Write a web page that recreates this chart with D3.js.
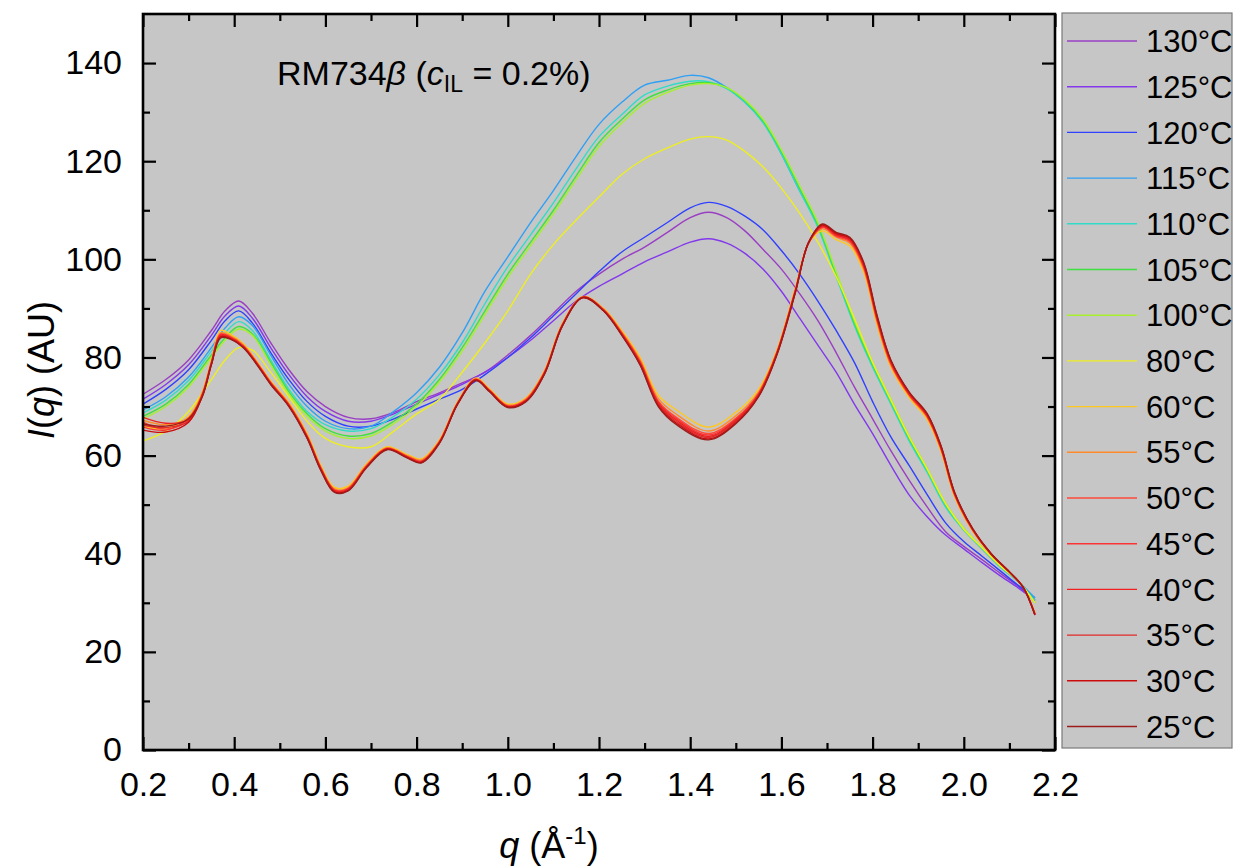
<!DOCTYPE html>
<html>
<head>
<meta charset="utf-8">
<script src="https://cdn.jsdelivr.net/npm/d3@7"></script>
<style>
  body { margin: 0; background: #ffffff; }
  svg { display: block; }
  text { font-family: "Liberation Sans", Arial, sans-serif; fill: #000; }
</style>
</head>
<body>
<svg id="chart" width="1235" height="867"></svg>
<script>
// ---- series labels and colours (legend order, top to bottom) ----
const temps = ["130°C","125°C","120°C","115°C","110°C","105°C","100°C","80°C",
               "60°C","55°C","50°C","45°C","40°C","35°C","30°C","25°C"];
const colors = ["#9a3fc4","#8338ec","#3040ff","#2ea0f5","#30dcc8","#40e040","#a8ee30","#eeee20",
                "#ffc81e","#ff8a2a","#ff4a3a","#fa3434","#f02020","#e02a2a","#cc0c0c","#9c1c1c"];

// ---- q grid for the isotropic / high-temperature scans (Å^-1) ----
const qHigh = [0.20,0.25,0.30,0.35,0.38,0.41,0.44,0.48,0.52,0.56,0.60,0.65,0.70,0.75,0.80,0.85,0.90,0.95,
               1.00,1.05,1.10,1.15,1.20,1.25,1.30,1.35,1.40,1.44,1.48,1.52,1.56,1.60,1.64,1.68,1.72,1.76,
               1.80,1.84,1.88,1.92,1.96,2.00,2.04,2.08,2.12,2.156];

const I130 = [72.5,75.5,79.5,85.5,89.5,91.5,89,83,77.5,73,70,67.8,67.5,68.8,71,72.8,74.8,77,
              80.5,84.5,89,93.5,97,100,102.5,105.5,108.5,109.6,108.5,105.8,102,98,93,87.5,81,74,
              67.5,61,55,49.5,44.5,41.5,38.8,36,33.3,30.5];
const I125 = [71.5,74.5,78.5,84.5,88.5,90.5,88,82,76.5,72,69,67,67,68.5,70.5,72.5,74.5,77,
              80,83.5,87.5,91.5,94.5,97,99.5,101.5,103.5,104.2,103.3,101.2,98,93.5,88,82.5,77,70.5,
              64.5,58,52,47.5,43.8,41,38.2,35.5,33,30.5];
const I120 = [70.5,73.5,77.5,83.5,87.5,89.5,87,81,75.5,71,68,66,66,67.5,69.5,71.5,73.5,76.5,
              80,84,88.5,93,97.5,101.5,104.5,107.5,110.5,111.6,110.8,108.8,106,101.8,97,91.5,85.5,79,
              71,63.8,58,52,46.3,42.5,39.5,36.5,33.5,31];
const I115 = [69.3,72,76,82,86,88.3,86.5,80.5,74.5,70,67,65.5,66,69,72.8,78,85,93.5,
              100.5,107.5,114,121,127.5,132,135.5,136.5,137.5,137,135,132,128,121.5,114,107,97,87,
              78.5,71,63.5,57,50,45,41,37.3,34.3,31];
const I110 = [68.7,71.3,75.3,81.3,85,87.3,85.5,79.5,73.5,69,66.3,65,65.5,68,71.5,76.5,83,91,
              98.5,105,111.5,118.5,125,129.5,133.5,135.3,136.3,136.2,134.8,132,127.8,121.5,114,106.5,96.5,86.5,
              78,70.5,63,56.5,49.5,44.8,41,37.3,34.2,30.5];
const I105 = [68,70.5,74.5,80.5,84,86.3,84.8,79,73,68.5,65.5,64,64.5,67,70.5,75.5,82,89.5,
              97,103.5,110,117,123.8,128.5,132.5,134.5,135.8,136,135,132.3,128.2,122,114.5,107,97,87,
              78.5,71,63.5,57,50,45,41.2,37.5,34.3,30];
const I100 = [67.5,70,74,80,83.5,85.8,84.5,78.5,72.5,68,65,63.5,64,66.5,70,75,81.3,88.8,
              96.3,102.8,109.3,116.3,123,127.8,131.8,134,135.5,135.8,135,132.5,128.5,122.3,115,107.5,97.5,87.5,
              79,71.5,64,57.3,50.3,45.2,41.3,37.6,34.4,30];
const I80  = [63,65,69,75.5,79.5,82,81.5,77,72,67,63.5,61.8,61.8,65,68.5,71.5,77,83,
              89.5,97,103,108,112.7,117.3,120.5,122.7,124.5,125,124.3,122,118.8,114.5,109.4,103.5,96.5,88,
              79,71.3,63.8,57.2,50.2,45,41.2,37.5,34.3,30];

// ---- q grid for the nematic-phase scans (Å^-1) ----
const qLow = [0.20,0.25,0.30,0.33,0.35,0.37,0.39,0.42,0.45,0.48,0.52,0.56,0.59,0.62,0.65,0.69,0.735,0.78,
              0.81,0.85,0.89,0.93,0.96,1.00,1.04,1.08,1.12,1.165,1.21,1.25,1.29,1.33,1.37,1.44,1.50,1.55,
              1.59,1.63,1.66,1.69,1.72,1.75,1.78,1.81,1.84,1.88,1.92,1.95,1.98,2.02,2.06,2.10,2.13,2.156];

const I60 = [66,65.5,68,73,79.5,85.5,84.8,82.8,79.2,75.2,70.8,64.5,58,53.5,53.8,58.3,61.8,60.2,
             59.3,63.2,71,75.8,73.6,70.5,71.8,77.3,87,92.4,90,85.5,80,72.3,69.3,65.8,68.8,73.5,
             81.5,94,103.3,105.8,104,102.7,97.5,86.5,78,71.8,67.3,60.8,51.5,44.5,39.8,36.2,33.2,28];
const I55 = [67.2,66.3,67.8,72.8,79.2,85,84.5,82.6,79,75,70.6,64.2,57.7,53.2,53.5,58.1,61.6,60,
             59.1,63,70.9,75.7,73.4,70.3,71.6,77.1,86.9,92.4,89.9,85.2,79.6,71.6,68.4,65,68.1,73,
             81.2,93.7,103.4,106.2,104.5,103.3,98.1,87.1,78.4,72.2,67.7,61.2,51.8,44.6,39.9,36.2,33.2,27.9];
const I50 = [66.8,65.4,67.2,72.5,79,84.8,84.3,82.4,78.9,74.9,70.4,64,57.5,53,53.3,57.9,61.5,59.8,
             58.9,62.8,70.7,75.5,73.3,70.1,71.4,76.9,86.7,92.3,89.7,85,79.2,71.1,67.8,64.5,67.6,72.7,
             81,93.5,103.4,106.5,104.7,103.6,98.5,87.5,78.7,72.4,67.9,61.4,52,44.8,39.9,36.2,33.2,27.7];
const I45 = [65.8,65.2,67.6,72.3,78.9,84.6,84.2,82.3,78.8,74.8,70.3,63.9,57.4,52.9,53.2,57.8,61.4,59.8,
             58.8,62.8,70.7,75.5,73.2,70.1,71.3,76.8,86.7,92.3,89.7,84.9,79.1,70.9,67.5,64.2,67.4,72.6,
             80.9,93.4,103.4,106.6,104.9,103.8,98.7,87.7,78.9,72.5,68,61.5,52.1,44.8,39.9,36.3,33.2,27.7];
const I40 = [67.8,66.6,67.3,72.3,78.8,84.5,84.1,82.2,78.7,74.7,70.2,63.8,57.3,52.8,53.1,57.7,61.4,59.7,
             58.7,62.7,70.6,75.4,73.2,70,71.2,76.7,86.6,92.3,89.6,84.8,78.9,70.7,67.2,63.9,67.2,72.4,
             80.8,93.3,103.4,106.8,105,104,98.9,87.9,79.1,72.6,68.1,61.6,52.2,44.9,39.9,36.3,33.2,27.6];
const I35 = [66.2,65.7,67,72.2,78.7,84.3,84,82.2,78.6,74.6,70.2,63.7,57.2,52.7,53,57.7,61.3,59.6,
             58.7,62.6,70.6,75.4,73.1,69.9,71.2,76.7,86.6,92.2,89.6,84.7,78.8,70.5,66.9,63.7,67,72.3,
             80.7,93.2,103.5,106.9,105.2,104.1,99.1,88.1,79.2,72.8,68.3,61.8,52.3,44.9,40,36.3,33.2,27.6];
const I30 = [65.2,64.8,66.8,72.1,78.6,84.2,83.9,82.1,78.6,74.6,70.1,63.6,57.1,52.6,52.9,57.6,61.3,59.6,
             58.6,62.6,70.5,75.4,73.1,69.9,71.1,76.6,86.5,92.2,89.5,84.6,78.6,70.2,66.6,63.4,66.7,72.1,
             80.6,93.1,103.5,107,105.3,104.3,99.3,88.3,79.4,72.9,68.4,61.9,52.4,45,40,36.3,33.2,27.5];
const I25 = [66.5,66,67.5,72,78.5,84,83.8,82,78.5,74.5,70,63.5,57,52.5,52.8,57.5,61.2,59.5,
             58.5,62.5,70.5,75.3,73,69.8,71,76.5,86.5,92.2,89.5,84.5,78.5,70,66.3,63.2,66.5,72,
             80.5,93,103.5,107.2,105.5,104.5,99.5,88.5,79.5,73,68.5,62,52.5,45,40,36.3,33.2,27.5];

// ---- axis ticks ----
const xMajor = [0.2,0.4,0.6,0.8,1.0,1.2,1.4,1.6,1.8,2.0,2.2];
const xMinor = [0.3,0.5,0.7,0.9,1.1,1.3,1.5,1.7,1.9,2.1];
const yMajor = [0,20,40,60,80,100,120,140];
const yMinor = [10,30,50,70,90,110,130];

// ---- assemble series ----
const intensities = [I130,I125,I120,I115,I110,I105,I100,I80,I60,I55,I50,I45,I40,I35,I30,I25];
const series = temps.map((t, i) => {
  const q = i < 8 ? qHigh : qLow;
  return { label: t, color: colors[i], points: q.map((v, j) => [v, intensities[i][j]]) };
});

// ---- layout ----
const svg = d3.select("#chart");
const plotL = 143, plotR = 1055, plotT = 14, plotB = 750;
const x = d3.scaleLinear().domain([0.2, 2.2]).range([plotL, plotR]);
const y = d3.scaleLinear().domain([0, 150]).range([plotB, plotT]);

// plot background
svg.append("rect").attr("x", plotL).attr("y", plotT)
  .attr("width", plotR - plotL).attr("height", plotB - plotT).attr("fill", "#c6c6c6");

svg.append("clipPath").attr("id", "plotClip").append("rect")
  .attr("x", plotL).attr("y", plotT).attr("width", plotR - plotL).attr("height", plotB - plotT);

// curves
const line = d3.line().x(d => x(d[0])).y(d => y(d[1])).curve(d3.curveCatmullRom.alpha(0.5));
svg.append("g").attr("clip-path", "url(#plotClip)")
  .selectAll("path").data(series).join("path")
  .attr("d", d => line(d.points))
  .attr("fill", "none")
  .attr("stroke", d => d.color)
  .attr("stroke-width", 1.4)
  .attr("stroke-linejoin", "round");

// axes with inward ticks on all four sides
const fmtX = d3.format(".1f");
function styleAxis(g) {
  g.select(".domain").remove();
  g.selectAll(".tick line").attr("stroke", "#000").attr("stroke-width", 2.2);
  g.selectAll(".tick text").attr("font-size", 34).attr("fill", "#000")
    .attr("font-family", '"Liberation Sans", Arial, sans-serif');
}
svg.append("g").attr("transform", `translate(0,${plotB})`)
  .call(d3.axisBottom(x).tickValues(xMajor).tickSize(-13).tickPadding(22).tickFormat(fmtX))
  .call(styleAxis);
svg.append("g").attr("transform", `translate(0,${plotB})`)
  .call(d3.axisBottom(x).tickValues(xMinor).tickSize(-7).tickFormat(""))
  .call(styleAxis);
svg.append("g").attr("transform", `translate(0,${plotT})`)
  .call(d3.axisTop(x).tickValues(xMajor).tickSize(-13).tickFormat(""))
  .call(styleAxis);
svg.append("g").attr("transform", `translate(0,${plotT})`)
  .call(d3.axisTop(x).tickValues(xMinor).tickSize(-7).tickFormat(""))
  .call(styleAxis);
svg.append("g").attr("transform", `translate(${plotL},0)`)
  .call(d3.axisLeft(y).tickValues(yMajor).tickSize(-13).tickPadding(21).tickFormat(d3.format("d")))
  .call(styleAxis);
svg.append("g").attr("transform", `translate(${plotL},0)`)
  .call(d3.axisLeft(y).tickValues(yMinor).tickSize(-7).tickFormat(""))
  .call(styleAxis);
svg.append("g").attr("transform", `translate(${plotR},0)`)
  .call(d3.axisRight(y).tickValues(yMajor).tickSize(-13).tickFormat(""))
  .call(styleAxis);
svg.append("g").attr("transform", `translate(${plotR},0)`)
  .call(d3.axisRight(y).tickValues(yMinor).tickSize(-7).tickFormat(""))
  .call(styleAxis);

// frame
svg.append("rect").attr("x", plotL).attr("y", plotT)
  .attr("width", plotR - plotL).attr("height", plotB - plotT)
  .attr("fill", "none").attr("stroke", "#000").attr("stroke-width", 2.6);

// axis titles
const xt = svg.append("text").attr("x", 549).attr("y", 858).attr("text-anchor", "middle").attr("font-size", 36);
xt.append("tspan").attr("font-style", "italic").text("q");
xt.append("tspan").text(" (Å");
xt.append("tspan").attr("font-size", 24).attr("dy", -14).text("-1");
xt.append("tspan").attr("dy", 14).text(")");

const yt = svg.append("text").attr("transform", "translate(54,370) rotate(-90)")
  .attr("text-anchor", "middle").attr("font-size", 36);
yt.append("tspan").attr("font-style", "italic").text("I");
yt.append("tspan").text("(");
yt.append("tspan").attr("font-style", "italic").text("q");
yt.append("tspan").text(") (AU)");

// sample annotation
const ann = svg.append("text").attr("x", 277).attr("y", 85).attr("font-size", 34);
ann.append("tspan").text("RM734");
ann.append("tspan").attr("font-style", "italic").text("β");
ann.append("tspan").text(" (");
ann.append("tspan").attr("font-style", "italic").text("c");
ann.append("tspan").attr("font-size", 23).attr("dy", 7).text("IL");
ann.append("tspan").attr("dy", -7).text(" = 0.2%)");

// legend
const lg = svg.append("g");
lg.append("rect").attr("x", 1062).attr("y", 13).attr("width", 170).attr("height", 735)
  .attr("fill", "#c6c6c6").attr("stroke", "#7a7a7a").attr("stroke-width", 1.2);
const rows = lg.selectAll("g.row").data(series).join("g").attr("class", "row")
  .attr("transform", (d, i) => `translate(0,${41 + i * 45.7})`);
rows.append("line").attr("x1", 1067).attr("x2", 1137).attr("y1", 0).attr("y2", 0)
  .attr("stroke", d => d.color).attr("stroke-width", 1.4);
rows.append("text").attr("x", 1146).attr("y", 0).attr("dy", "0.36em")
  .attr("font-size", 31).text(d => d.label);
</script>
</body>
</html>
